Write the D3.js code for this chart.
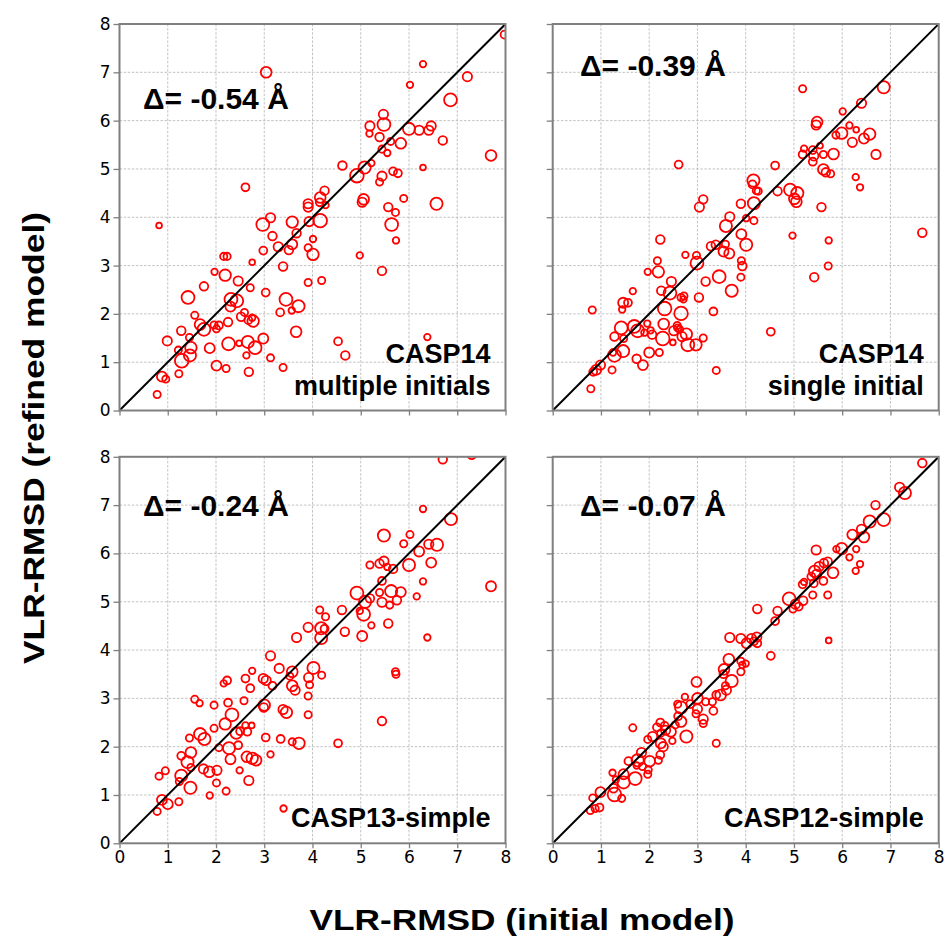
<!DOCTYPE html>
<html>
<head>
<meta charset="utf-8">
<script src="https://cdn.jsdelivr.net/npm/d3@7"></script>
<style>
  html, body { margin: 0; padding: 0; background: #fff; }
  svg { display: block; }
</style>
</head>
<body>
<div id="chart"></div>
<script>
// ---------------- DATA ----------------
// each record: [initial-model VLR-RMSD, refined-model VLR-RMSD, relative circle size]
const casp14Multiple = [
  [7.98,7.78,10],[3.04,7.0,14],[6.29,7.17,8],[6.02,6.74,8],[7.21,6.91,12],[6.86,6.43,17],[5.47,6.13,12],[5.48,5.92,17],
  [5.19,5.89,12],[5.18,5.73,8],[5.39,5.66,11],[6.0,5.83,16],[6.21,5.80,12],[6.41,5.80,12],[6.46,5.89,12],[6.70,5.59,11],
  [5.83,5.53,14],[5.62,5.57,9],[5.44,5.41,9],[5.55,5.33,8],[7.70,5.28,14],[6.29,5.03,7],[4.62,5.07,11],[5.08,5.03,16],
  [4.92,4.86,18],[5.22,5.12,8],[5.44,4.85,12],[5.39,4.73,9],[5.67,4.95,10],[5.77,4.91,10],[2.61,4.62,10],[4.25,4.55,11],
  [4.16,4.41,14],[4.15,4.31,10],[4.27,4.25,8],[3.91,4.28,12],[3.91,4.21,12],[5.06,4.37,14],[5.03,4.31,12],[5.89,4.39,9],
  [6.57,4.28,16],[5.57,4.21,11],[5.72,4.10,9],
  [3.13,3.99,12],[2.97,3.85,17],[3.58,3.90,15],[3.93,3.91,12],[4.16,3.93,18],[5.64,3.85,17],[0.82,3.83,7],[3.17,3.61,11],
  [3.67,3.67,11],[4.01,3.55,8],[5.73,3.52,8],[3.58,3.44,13],[3.29,3.39,12],[3.51,3.32,11],[3.91,3.37,9],[4.01,3.23,15],
  [2.98,3.31,10],[2.16,3.19,9],[2.23,3.19,9],[4.98,3.21,8],[2.75,3.07,7],[3.39,2.98,11],[1.97,2.87,8],[5.44,2.89,11],
  [2.19,2.80,15],[2.46,2.68,12],[3.91,2.65,9],[4.19,2.69,9],[1.75,2.57,11],[2.71,2.54,9],[3.03,2.44,10],[1.42,2.34,17],
  [2.31,2.30,17],[2.43,2.27,17],[3.45,2.30,17],[2.30,2.15,13],[3.71,2.16,16],[3.57,2.07,8],[3.33,2.03,10],[1.56,1.97,9],
  [2.59,2.03,9],[2.52,1.94,11],[2.67,1.87,10],[2.77,1.85,15],[2.75,1.92,8],[2.25,1.83,11],[1.67,1.78,14],[1.75,1.68,17],
  [1.96,1.77,9],[2.06,1.76,10],[2.01,1.69,9],[1.28,1.65,11],[3.66,1.63,14],[1.45,1.51,9],[0.99,1.44,12],[2.98,1.49,13],
  [2.66,1.42,16],[2.26,1.38,17],[2.48,1.39,7],[2.81,1.30,17],[1.87,1.29,13],[1.48,1.30,15],[1.22,1.25,9],[1.46,1.14,16],
  [1.29,1.03,18],[2.63,1.14,8],[3.13,1.09,9],[4.53,1.43,10],[4.68,1.14,11],[6.38,1.52,8],[2.01,0.93,13],[2.21,0.87,9],
  [2.68,0.80,11],[3.39,0.89,9],[1.23,0.76,9],[0.88,0.70,13],[0.96,0.65,9],[0.78,0.33,9]
];
const casp14Single = [
  [5.18,6.66,9],[6.86,6.69,16],[6.40,6.36,12],[6.01,6.19,8],[5.48,5.97,14],[5.46,5.91,12],[6.15,5.90,8],[6.29,5.81,7],
  [5.99,5.74,15],[5.87,5.70,9],[6.57,5.72,15],[6.45,5.63,13],[6.21,5.55,12],[5.21,5.42,8],[5.54,5.48,7],[5.39,5.39,10],
  [5.18,5.30,10],[5.41,5.27,12],[5.61,5.30,9],[5.82,5.31,14],[5.39,5.15,10],[6.70,5.30,12],[2.61,5.09,10],[4.61,5.07,10],
  [5.61,4.99,14],[5.66,4.93,11],[5.76,4.90,9],[6.28,4.83,8],[6.37,4.62,8],[4.16,4.76,16],[4.14,4.68,10],[4.22,4.55,9],
  [4.26,4.54,9],[4.66,4.54,11],[4.92,4.57,16],[5.07,4.50,16],[5.01,4.38,14],[5.05,4.32,14],[3.12,4.37,11],[3.04,4.21,12],
  [3.90,4.28,11],[4.17,4.29,16],[5.57,4.21,11],[3.67,4.01,12],[4.17,3.93,9],
  [3.59,3.82,16],[4.01,3.98,8],[2.23,3.54,11],[3.91,3.65,13],[4.01,3.43,16],[4.97,3.62,8],[5.72,3.52,8],[7.66,3.68,11],
  [3.28,3.40,11],[3.38,3.43,11],[3.58,3.44,9],[3.54,3.29,13],[3.66,3.25,13],[2.75,3.22,8],[2.98,3.21,9],[2.99,3.05,17],
  [2.17,3.10,9],[3.91,3.10,9],[3.93,2.99,11],[1.97,2.87,8],[2.19,2.87,15],[3.45,2.77,17],[3.90,2.76,9],[2.46,2.67,12],
  [3.17,2.67,11],[5.42,2.76,11],[5.71,2.99,9],[1.66,2.47,8],[2.25,2.48,11],[2.43,2.43,17],[3.71,2.48,16],[2.66,2.34,9],
  [2.72,2.37,9],[2.71,2.30,8],[3.03,2.34,11],[1.46,2.23,13],[1.56,2.23,10],[1.44,2.09,8],[0.82,2.08,9],[2.32,2.11,18],
  [2.66,2.01,18],[3.33,2.05,10],[2.30,1.79,14],[1.96,1.80,8],[1.42,1.71,17],[1.69,1.74,17],[1.76,1.65,17],[1.90,1.61,8],
  [2.03,1.66,8],[2.06,1.57,11],[2.58,1.76,9],[2.59,1.71,9],[2.51,1.65,12],[2.63,1.68,9],[2.77,1.58,15],[2.68,1.53,12],
  [3.12,1.50,9],[2.28,1.49,18],[1.28,1.53,11],[1.47,1.49,9],[2.49,1.41,7],[2.80,1.36,17],[2.97,1.36,15],[4.52,1.63,10],
  [1.46,1.23,16],[2.00,1.20,13],[2.21,1.20,9],[1.28,1.14,17],[1.25,1.20,8],[1.74,1.07,11],[1.87,0.94,13],[0.99,0.94,12],
  [0.90,0.84,13],[0.84,0.80,10],[1.23,0.84,9],[3.39,0.83,9],[0.79,0.45,9]
];
const casp13Simple = [
  [6.70,7.95,11],[7.30,8.04,11],[6.29,6.92,8],[6.87,6.71,16],[5.48,6.37,16],[6.02,6.39,9],[5.89,6.20,9],[6.41,6.19,12],
  [6.58,6.18,16],[6.21,6.04,13],[5.48,5.84,12],[5.39,5.79,11],[5.19,5.76,9],[5.55,5.72,8],[5.67,5.68,11],[6.00,5.76,16],
  [6.46,5.81,13],[5.44,5.43,10],[6.29,5.42,8],[7.70,5.32,13],[4.92,5.18,17],[5.63,5.22,16],[5.83,5.20,13],[5.39,5.19,9],
  [5.19,5.07,11],[5.09,5.00,16],[5.44,4.99,12],[5.75,5.03,11],[5.60,4.93,9],[6.16,5.11,8],[4.61,4.83,11],[4.15,4.83,9],
  [4.98,4.81,8],[5.06,4.74,17],[4.27,4.69,9],[5.57,4.55,11],[5.22,4.51,8],[3.91,4.47,12],[4.18,4.45,16],[4.25,4.44,10],
  [4.67,4.38,11],[5.03,4.29,13],[3.67,4.26,12],[4.18,4.25,16],[6.38,4.26,8],
  [3.13,3.88,12],[4.02,3.63,16],[3.31,3.62,12],[3.58,3.55,14],[3.53,3.46,9],[4.19,3.48,9],[5.72,3.55,9],[5.73,3.50,9],
  [2.75,3.57,8],[2.61,3.41,10],[2.98,3.41,12],[3.04,3.37,12],[2.23,3.37,10],[2.16,3.31,8],[3.17,3.26,10],[3.92,3.43,12],
  [3.94,3.28,9],[3.58,3.26,14],[3.64,3.17,12],[2.71,3.21,10],[3.91,3.05,9],[1.56,2.98,9],[1.66,2.90,8],[1.96,2.86,9],
  [2.25,2.91,10],[2.58,2.95,9],[3.00,2.86,15],[2.99,2.81,11],[3.39,2.77,12],[3.46,2.71,15],[3.91,2.66,9],[2.33,2.66,17],
  [2.19,2.47,15],[1.96,2.38,9],[2.61,2.44,8],[2.74,2.44,7],[2.50,2.32,10],[2.65,2.31,10],[2.42,2.28,15],[5.44,2.53,11],
  [1.67,2.26,16],[1.76,2.16,16],[1.45,2.18,9],[3.03,2.19,10],[3.34,2.16,10],[3.58,2.10,9],[3.72,2.07,15],[4.53,2.07,10],
  [2.46,2.03,10],[2.06,1.98,9],[2.27,1.97,16],[1.48,1.88,14],[1.28,1.81,10],[1.41,1.68,16],[2.30,1.74,13],[2.64,1.79,14],
  [2.75,1.76,15],[2.83,1.72,14],[3.13,1.84,8],[1.48,1.57,9],[1.74,1.54,12],[1.86,1.48,14],[2.02,1.51,12],[2.49,1.51,8],
  [0.95,1.50,9],[0.82,1.39,9],[1.28,1.40,16],[1.24,1.28,9],[2.01,1.25,9],[2.68,1.30,12],[1.47,1.15,16],[2.21,1.08,9],
  [1.87,0.99,8],[0.88,0.90,13],[1.00,0.81,13],[1.23,0.86,9],[3.40,0.72,8],[0.78,0.66,9]
];
const casp12Simple = [
  [7.66,7.87,11],[7.19,7.37,12],[7.30,7.25,16],[6.69,7.00,11],[6.86,6.70,17],[6.57,6.66,16],[6.40,6.50,12],[6.21,6.39,13],
  [6.45,6.34,14],[5.46,6.07,12],[5.88,6.09,8],[5.99,6.10,15],[6.29,6.09,8],[6.15,5.92,8],[6.37,5.78,8],[6.28,5.64,8],
  [5.70,5.83,11],[5.62,5.80,11],[5.52,5.73,12],[5.43,5.63,15],[5.47,5.57,12],[5.36,5.52,10],[5.81,5.60,14],[5.61,5.43,10],
  [5.41,5.38,10],[5.18,5.36,10],[5.21,5.41,8],[5.39,5.14,9],[5.70,5.14,9],[4.90,5.06,17],[5.03,4.95,12],[5.19,5.02,11],
  [4.98,4.85,9],[5.10,4.90,10],[4.24,4.85,11],[4.66,4.81,11],[4.61,4.60,10],[5.72,4.20,7],[3.67,4.26,12],[3.90,4.24,12],
  [4.12,4.24,12],[4.23,4.27,12],[4.17,4.18,10],
  [4.24,4.14,10],[4.02,4.14,13],[4.52,3.88,10],[3.65,3.81,14],[3.90,3.77,9],[3.93,3.69,8],[4.00,3.72,8],[3.90,3.55,9],
  [3.55,3.60,14],[3.54,3.50,10],[3.71,3.36,16],[2.98,3.34,13],[3.58,3.26,9],[3.60,3.17,12],[3.48,3.07,14],[3.39,3.07,10],
  [3.31,2.93,9],[3.17,2.93,9],[3.00,3.00,14],[2.74,3.03,8],[2.59,2.88,9],[2.66,2.81,16],[2.85,2.88,10],[3.00,2.78,12],
  [3.33,2.74,10],[2.97,2.68,9],[3.12,2.57,12],[3.12,2.48,9],[2.60,2.63,10],[2.66,2.52,14],[2.54,2.45,9],[2.23,2.50,10],
  [1.66,2.39,9],[2.32,2.43,10],[2.16,2.40,10],[2.45,2.31,13],[2.34,2.34,12],[2.24,2.28,9],[2.07,2.21,12],[2.77,2.21,16],
  [2.48,2.12,8],[1.97,2.15,9],[3.39,2.07,9],[2.24,2.07,13],[2.29,2.00,12],[1.84,1.88,12],[2.23,1.83,10],[2.19,1.72,9],
  [1.57,1.70,10],[1.76,1.72,16],[2.01,1.70,14],[1.74,1.61,8],[1.86,1.59,9],[1.98,1.52,9],[1.97,1.43,9],[1.71,1.34,17],
  [1.24,1.46,8],[1.47,1.43,13],[1.47,1.26,16],[1.31,1.32,8],[1.26,1.14,11],[1.28,1.01,18],[1.43,0.93,9],[0.99,1.06,13],
  [0.83,0.94,9],[0.97,0.74,10],[0.88,0.72,9],[0.78,0.68,9]
];
const panelSeries = [casp14Multiple, casp14Single, casp13Simple, casp12Simple];
const deltaValues = ["-0.54", "-0.39", "-0.24", "-0.07"];
const panelNames = [["CASP14", "multiple initials"], ["CASP14", "single initial"], ["CASP13-simple"], ["CASP12-simple"]];
const tickValues = [0, 1, 2, 3, 4, 5, 6, 7, 8];
const axisDomain = [0, 8];
const xTitle = "VLR-RMSD (initial model)";
const yTitle = "VLR-RMSD (refined model)";

// ---------------- LAYOUT ----------------
const W = 950, H = 940;
const PW = 386, PH = 386.5;
const colX = [119.5, 552.7];
const rowY = [24, 456.8];
const deltaPos = [[23.5, 85.3], [27.3, 51.5], [23.5, 59.3], [27.3, 59.3]]; // offset inside panel (x, baseline)
const spineColor = "#7f7f7f";

const svg = d3.select("#chart").append("svg")
  .attr("width", W).attr("height", H)
  .attr("viewBox", `0 0 ${W} ${H}`);

const rScale = d3.scaleLinear().domain([7, 18]).range([2.9, 6.8]);

panelSeries.forEach((data, i) => {
  const col = i % 2, row = Math.floor(i / 2);
  const x0 = colX[col], y0 = rowY[row];
  const x = d3.scaleLinear().domain(axisDomain).range([0, PW]);
  const y = d3.scaleLinear().domain(axisDomain).range([PH, 0]);

  const g = svg.append("g").attr("transform", `translate(${x0},${y0})`);

  const clipId = "clip" + i;
  g.append("clipPath").attr("id", clipId)
    .append("rect").attr("x", 0).attr("y", 0).attr("width", PW).attr("height", PH);

  // grid
  const grid = g.append("g");
  grid.selectAll("line.gx").data(tickValues.slice(1, -1)).join("line")
    .attr("x1", d => x(d)).attr("x2", d => x(d)).attr("y1", 0).attr("y2", PH)
    .attr("stroke", "#b3b3b3").attr("stroke-width", 0.8).attr("stroke-dasharray", "2.5,1.6");
  grid.selectAll("line.gy").data(tickValues.slice(1, -1)).join("line")
    .attr("y1", d => y(d)).attr("y2", d => y(d)).attr("x1", 0).attr("x2", PW)
    .attr("stroke", "#b3b3b3").attr("stroke-width", 0.8).attr("stroke-dasharray", "2.5,1.6");

  // points
  g.append("g").attr("clip-path", `url(#${clipId})`)
    .selectAll("circle").data(data).join("circle")
    .attr("cx", d => x(d[0])).attr("cy", d => y(d[1])).attr("r", d => rScale(d[2]))
    .attr("fill", "none").attr("stroke", "#ff0000").attr("stroke-width", 1.8);

  // diagonal
  g.append("line").attr("clip-path", `url(#${clipId})`)
    .attr("x1", x(axisDomain[0])).attr("y1", y(axisDomain[0]))
    .attr("x2", x(axisDomain[1])).attr("y2", y(axisDomain[1]))
    .attr("stroke", "#000").attr("stroke-width", 2);

  // axes
  const xAxis = d3.axisBottom(x).tickValues(tickValues).tickSize(5).tickPadding(3);
  const yAxis = d3.axisLeft(y).tickValues(tickValues).tickSize(6).tickPadding(3);
  if (row === 0) xAxis.tickFormat("");
  if (col === 1) yAxis.tickFormat("");
  const gx = g.append("g").attr("transform", `translate(0,${PH})`).call(xAxis);
  const gy = g.append("g").call(yAxis);
  [gx, gy].forEach(a => {
    a.select(".domain").remove();
    a.selectAll(".tick line").attr("stroke", spineColor).attr("stroke-width", 1.3);
    a.selectAll(".tick text").attr("fill", "#000")
      .style("font-family", "'DejaVu Sans', sans-serif").style("font-size", "17px");
  });

  // spines
  g.append("rect").attr("x", 0).attr("y", 0).attr("width", PW).attr("height", PH)
    .attr("fill", "none").attr("stroke", spineColor).attr("stroke-width", 2);

  // delta annotation
  g.append("text")
    .attr("x", deltaPos[i][0]).attr("y", deltaPos[i][1])
    .style("font-family", "'Liberation Sans', Arial, sans-serif")
    .style("font-weight", "bold").style("font-size", "30px")
    .text(`Δ= ${deltaValues[i]} Å`);

  // set name
  const names = panelNames[i];
  names.forEach((t, k) => {
    const baseline = names.length === 2 ? (k === 0 ? PH - 47.2 : PH - 15.5) : PH - 16.6;
    g.append("text")
      .attr("x", PW - 15).attr("y", baseline)
      .attr("text-anchor", "end")
      .style("font-family", "'Liberation Sans', Arial, sans-serif")
      .style("font-weight", "bold").style("font-size", "27px")
      .text(t);
  });
});

// axis titles
svg.append("text")
  .attr("x", 522).attr("y", 930)
  .attr("text-anchor", "middle")
  .attr("textLength", 425).attr("lengthAdjust", "spacingAndGlyphs")
  .style("font-family", "'Liberation Sans', Arial, sans-serif")
  .style("font-weight", "bold").style("font-size", "30px")
  .text(xTitle);

svg.append("text")
  .attr("transform", "translate(43.5,438) rotate(-90)")
  .attr("text-anchor", "middle")
  .attr("textLength", 452).attr("lengthAdjust", "spacingAndGlyphs")
  .style("font-family", "'Liberation Sans', Arial, sans-serif")
  .style("font-weight", "bold").style("font-size", "30px")
  .text(yTitle);
</script>
</body>
</html>
